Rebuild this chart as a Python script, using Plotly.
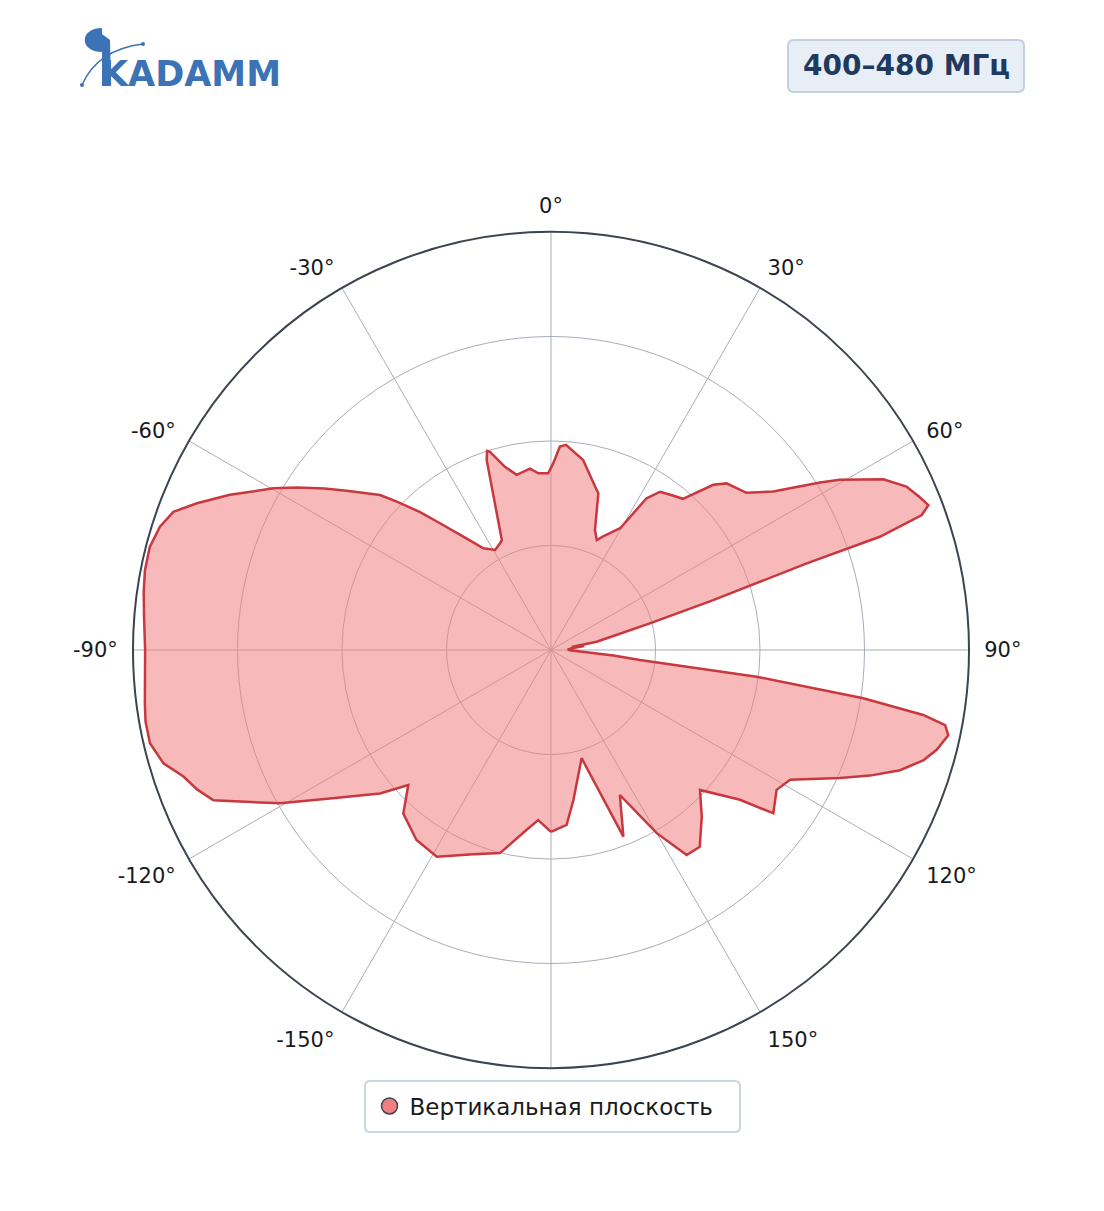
import plotly.graph_objects as go

W, H = 1104, 1211

# ---- data: vertical-plane radiation pattern (normalised amplitude) ----
theta_deg = [-180, -175.7, -172.3, -165.9, -159.2, -151.1, -144.7, -137.9, -133.4, -130,
             -123.9, -119.5, -114, -111.5, -109, -106.3, -103.1, -100, -97.5, -90, -85.8, -82, -78.9,
             -75.6, -72.5, -69.9, -67.5, -64.2, -59.8, -57.4, -54.5, -52.1, -47.8, -46.1,
             -43.5, -41.2, -37.7, -33.6, -29.2, -25.5, -24.1, -18.7, -17.8, -17.1, -14.1, -11.1,
             -6.6, -4.1, -0.9, 0.7, 2.5, 4.2, 9.6, 15.1, 16.8, 20.1,
             22.6, 24.8, 29.6, 32.2, 34.6, 38, 41.1, 44.5, 46.5, 51.2, 54.5,
             58.1, 59.5, 62.8, 65.3, 67.5, 69.0, 70, 71, 71.3, 72.9, 74.9,
             77, 79.7, 81.5, 83, 85, 88, 91, 93, 95, 96.4,
             97.4, 98.8, 99.9, 100.8, 102.1, 104.5, 106.5, 109, 111.5, 113.9, 118.5,
             121.8, 126.3, 128.4, 133.2, 137.9, 142.9, 146.5, 150, 154.6, 158.8,
             164.2, 171.5, 174.9, 180]
r_vert = [0.435, 0.408, 0.434, 0.501, 0.523, 0.565, 0.557, 0.527, 0.47, 0.534,
          0.637, 0.745, 0.884, 0.91, 0.93, 0.966, 0.985, 0.985, 0.98, 0.971, 0.976, 0.984, 0.99,
          0.991, 0.981, 0.962, 0.917, 0.853, 0.769, 0.722, 0.665, 0.62, 0.552, 0.512,
          0.455, 0.403, 0.343, 0.292, 0.274, 0.283, 0.288, 0.48, 0.5, 0.496, 0.452, 0.427,
          0.437, 0.424, 0.423, 0.447, 0.487, 0.492, 0.461, 0.405, 0.392, 0.306,
          0.285, 0.30, 0.335, 0.429, 0.46, 0.47, 0.48, 0.554, 0.579, 0.60, 0.653,
          0.758, 0.802, 0.894, 0.936, 0.955, 0.967, 0.944, 0.832, 0.646, 0.406, 0.245,
          0.16, 0.111, 0.05, 0.08, 0.05, 0.04, 0.045, 0.07, 0.15, 0.214,
          0.496, 0.756, 0.904, 0.96, 0.972, 0.953, 0.929, 0.883, 0.82, 0.756, 0.651,
          0.635, 0.66, 0.577, 0.489, 0.538, 0.59, 0.588, 0.506, 0.384, 0.479,
          0.269, 0.363, 0.42, 0.435]

tick_vals = [0, 30, 60, 90, 120, 150, 180, 210, 240, 270, 300, 330]
tick_text = ["0°", "30°", "60°", "90°", "120°", "150°", "",
             "-150°", "-120°", "-90°", "-60°", "-30°"]
radial_ticks = [0.25, 0.5, 0.75, 1.0]
series_name = "Вертикальная плоскость"
band_label = "400–480 МГц"
logo_text = "KADAMM"

FONT = "DejaVu Sans"
LINE = "#c8383e"
FILL = "rgba(240,128,128,0.55)"
GRID = "#a9adbb"
AXIS = "#3d4451"
LOGO = "#3b73b6"


def px(x):
    return x / W


def py(y):
    return 1 - y / H


fig = go.Figure()
fig.add_trace(go.Scatterpolar(
    theta=theta_deg, r=r_vert, mode="lines", fill="toself",
    fillcolor=FILL, line=dict(color=LINE, width=2.5),
    showlegend=False, hoverinfo="skip"))
# legend entry (circle marker)
fig.add_trace(go.Scatterpolar(
    theta=[None], r=[None], mode="markers", name=series_name,
    marker=dict(symbol="circle", size=20, color="#f08080",
                line=dict(color="#3b4556", width=1.5))))


def rounded_rect(x0, y0, x1, y1, rad):
    p = [f"M {px(x0+rad)},{py(y0)}",
         f"L {px(x1-rad)},{py(y0)}",
         f"Q {px(x1)},{py(y0)} {px(x1)},{py(y0+rad)}",
         f"L {px(x1)},{py(y1-rad)}",
         f"Q {px(x1)},{py(y1)} {px(x1-rad)},{py(y1)}",
         f"L {px(x0+rad)},{py(y1)}",
         f"Q {px(x0)},{py(y1)} {px(x0)},{py(y1-rad)}",
         f"L {px(x0)},{py(y0+rad)}",
         f"Q {px(x0)},{py(y0)} {px(x0+rad)},{py(y0)} Z"]
    return " ".join(p)


shapes = [
    dict(type="path", xref="paper", yref="paper",
         path=rounded_rect(788, 40, 1024, 92, 6),
         fillcolor="#e8eef6", line=dict(color="#c3cfe0", width=2), layer="below"),
    dict(type="path", xref="paper", yref="paper",
         path=rounded_rect(365, 1081, 740, 1132, 5),
         fillcolor="white", line=dict(color="#ccd4e2", width=2), layer="below"),
    # logo: half disc
    dict(type="path", xref="paper", yref="paper",
         path=(f"M {px(102)},{py(28)} C {px(79)},{py(28)} {px(79)},{py(52)} "
               f"{px(102)},{py(52)} Z"),
         fillcolor=LOGO, line=dict(width=0)),
    # logo: tall K stem
    dict(type="path", xref="paper", yref="paper",
         path=(f"M {px(102)},{py(34)} L {px(110)},{py(40)} L {px(111)},{py(86)} "
               f"L {px(102)},{py(86)} Z"),
         fillcolor=LOGO, line=dict(width=0)),
    # logo: arc
    dict(type="path", xref="paper", yref="paper",
         path=f"M {px(82)},{py(85)} Q {px(97.5)},{py(49.5)} {px(143)},{py(44)}",
         line=dict(color=LOGO, width=1.5)),
    dict(type="circle", xref="paper", yref="paper",
         x0=px(80), x1=px(84), y0=py(83), y1=py(87), fillcolor=LOGO, line=dict(width=0)),
    dict(type="circle", xref="paper", yref="paper",
         x0=px(141), x1=px(145), y0=py(42), y1=py(46), fillcolor=LOGO, line=dict(width=0)),
]

annotations = [
    dict(text=f"<b>{band_label}</b>", x=px(906), y=py(66), xref="paper", yref="paper",
         xanchor="center", yanchor="middle", showarrow=False,
         font=dict(family=FONT, size=28, color="#1f3a5f")),
    dict(text=f"<b>{logo_text}</b>", x=px(99), y=py(74), xref="paper", yref="paper",
         xanchor="left", yanchor="middle", showarrow=False,
         font=dict(family=FONT, size=35, color=LOGO)),
]

fig.update_layout(
    width=W, height=H, autosize=False,
    margin=dict(l=0, r=0, t=0, b=0),
    paper_bgcolor="white", plot_bgcolor="white",
    font=dict(family=FONT, size=21, color="#1a1a1a"),
    polar=dict(
        domain=dict(x=[px(133), px(969)], y=[py(1068), py(232)]),
        bgcolor="white",
        angularaxis=dict(
            rotation=90, direction="clockwise",
            tickmode="array", tickvals=tick_vals, ticktext=tick_text,
            showline=True, linecolor=AXIS, linewidth=2,
            gridcolor=GRID, gridwidth=1,
            ticks="outside", ticklen=10, tickcolor="rgba(0,0,0,0)",
            tickfont=dict(family=FONT, size=21, color="#1a1a1a")),
        radialaxis=dict(
            range=[0, 1], tickmode="array", tickvals=radial_ticks,
            showticklabels=False, ticks="", showline=False,
            gridcolor=GRID, gridwidth=1)),
    showlegend=True,
    legend=dict(x=px(544), xanchor="center", y=py(1106), yanchor="middle",
                orientation="h", bgcolor="rgba(0,0,0,0)", borderwidth=0,
                font=dict(family=FONT, size=23, color="#1a1a1a"),
                itemsizing="trace"),
    shapes=shapes, annotations=annotations,
)

fig.write_html("out.html", config={"displayModeBar": False},
               post_script="document.body.style.margin='0';")
